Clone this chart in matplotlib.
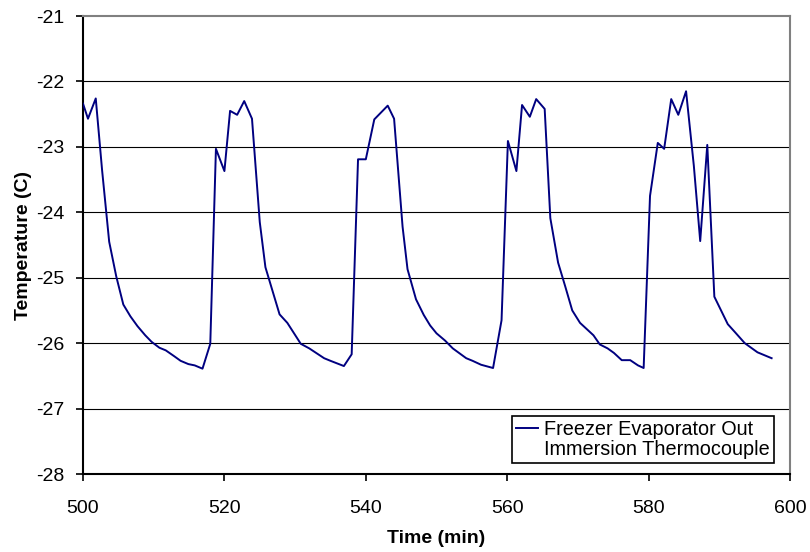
import matplotlib
matplotlib.use("Agg")
import matplotlib.pyplot as plt
from matplotlib.lines import Line2D

plt.rcParams['font.family'] = ['Liberation Sans', 'DejaVu Sans']
plt.rcParams['axes.unicode_minus'] = False

# evaporator outlet temperature, sampled about once a minute
time_min = [500.0, 500.7, 501.8, 502.7, 503.7, 504.7, 505.7, 506.7, 507.7, 508.8,
            509.7, 510.8, 511.7, 512.9, 513.8, 514.9, 515.8, 516.9, 518.0, 518.8,
            520.0, 520.8, 521.8, 522.8, 523.9, 525.0, 525.8, 527.8, 528.9, 530.8,
            532.0, 534.1, 535.0, 536.9, 538.0, 538.9, 540.0, 541.2, 543.1, 544.0,
            545.2, 545.9, 547.1, 548.2, 549.1, 550.0, 551.2, 552.3, 554.2, 555.1,
            556.3, 558.0, 559.2, 560.1, 561.3, 562.1, 563.2, 564.1, 565.3, 566.1,
            567.2, 568.2, 569.2, 570.3, 572.2, 573.1, 574.2, 575.1, 576.2, 577.4,
            578.5, 579.3, 580.2, 581.3, 582.2, 583.2, 584.2, 585.3, 586.4, 587.3,
            588.3, 589.3, 591.2, 592.2, 593.6, 595.4, 597.4]
temp_c = [-22.34, -22.57, -22.26, -23.36, -24.45, -24.98, -25.41, -25.59, -25.74, -25.88,
          -25.98, -26.07, -26.11, -26.20, -26.27, -26.32, -26.34, -26.39, -26.01, -23.03,
          -23.37, -22.45, -22.51, -22.30, -22.57, -24.15, -24.84, -25.56, -25.69, -26.01,
          -26.08, -26.23, -26.27, -26.35, -26.17, -23.19, -23.19, -22.58, -22.37, -22.57,
          -24.22, -24.87, -25.33, -25.57, -25.73, -25.85, -25.96, -26.08, -26.23, -26.27,
          -26.33, -26.38, -25.65, -22.91, -23.37, -22.36, -22.54, -22.27, -22.42, -24.09,
          -24.77, -25.13, -25.50, -25.69, -25.88, -26.02, -26.08, -26.15, -26.26, -26.26,
          -26.34, -26.38, -23.75, -22.94, -23.03, -22.27, -22.51, -22.15, -23.29, -24.44,
          -22.97, -25.29, -25.71, -25.83, -26.00, -26.14, -26.23]

x_ticks = [500, 520, 540, 560, 580, 600]
y_ticks = [-28, -27, -26, -25, -24, -23, -22, -21]

fig = plt.figure(figsize=(8.1, 5.52), dpi=100)
ax = fig.add_axes([0.1025, 0.1413, 0.8728, 0.8297])

for y in y_ticks[1:-1]:
    ax.axhline(y, color='black', lw=0.8, zorder=1)

line, = ax.plot(time_min, temp_c, color='#000080', lw=1.4, zorder=3)

ax.set_xlim(500, 600)
ax.set_ylim(-28, -21)
ax.set_xticks(x_ticks)
ax.set_yticks(y_ticks)
ax.tick_params(axis='both', direction='out', length=5, width=1.2, labelsize=14)
ax.tick_params(axis='x', pad=14)
ax.tick_params(axis='y', pad=8.5)

ax.spines['left'].set_linewidth(1.5)
ax.spines['bottom'].set_linewidth(1.5)
for side in ('top', 'right'):
    ax.spines[side].set_color('#808080')
    ax.spines[side].set_linewidth(1.5)

ax.set_xlabel('Time (min)', fontsize=14, fontweight='bold', labelpad=9)
ax.set_ylabel('Temperature (C)', fontsize=14, fontweight='bold', labelpad=3)

blank = Line2D([], [], linestyle='none')
leg = ax.legend([line, blank], ['Freezer Evaporator Out', 'Immersion Thermocouple'],
                loc='lower right', bbox_to_anchor=(0.977, 0.024), borderaxespad=0,
                fontsize=14.3, handlelength=1.1, handletextpad=0.3, labelspacing=0.05,
                borderpad=0.2, fancybox=False, framealpha=1, edgecolor='black')
leg.get_frame().set_linewidth(1.2)

fig.savefig('out.png', dpi=100)
